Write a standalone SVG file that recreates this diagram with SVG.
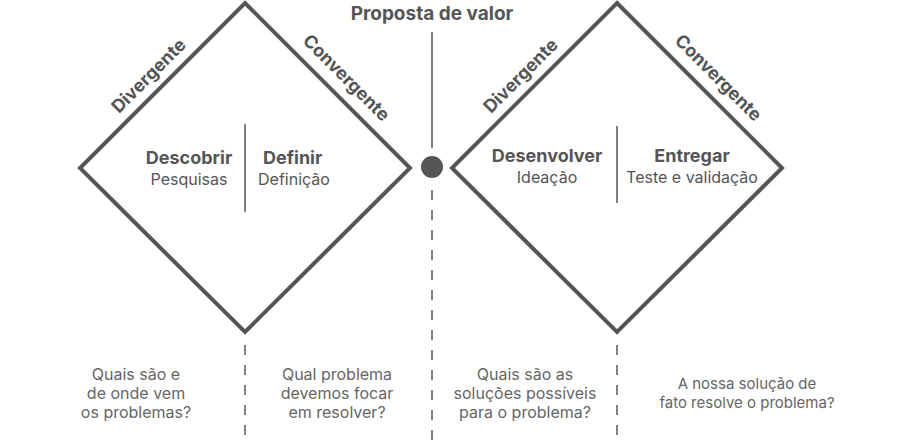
<svg xmlns="http://www.w3.org/2000/svg" width="897" height="440" viewBox="0 0 897 440">
<style>
text{font-family:Inter,"Noto Sans",sans-serif;fill:#555;}
.b{font-weight:700;font-size:18px;}
.t{font-weight:700;font-size:19px;}
.r{font-size:16px;}
.q{font-size:16px;fill:#666;}
.q2{font-size:15px;fill:#666;}
.d{fill:none;stroke:#555;stroke-width:4;}
.l{stroke:#555;stroke-width:1.5;}
.dash{stroke:#555;stroke-width:1.5;stroke-dasharray:10 10;}
</style>
<rect width="897" height="440" fill="#fff"/>
<g id="connectors">
<line class="l" x1="432" y1="32" x2="432" y2="148"/>
<line class="dash" x1="432" y1="190" x2="432" y2="440"/>
<line class="dash" x1="245" y1="345" x2="245" y2="440"/>
<line class="dash" x1="617" y1="345" x2="617" y2="440"/>
<line class="l" x1="245" y1="124" x2="245" y2="212"/>
<line class="l" x1="617" y1="126" x2="617" y2="203"/>
</g>
<g id="diamond-left"><polygon class="d" points="245,3 410,168 245,332 80,168"/></g>
<g id="diamond-right"><polygon class="d" points="617,3 782,168 617,332 452,168"/></g>
<g id="center"><circle cx="432" cy="167" r="11" fill="#555"/>
<text class="t" x="432" y="20" text-anchor="middle">Proposta de valor</text></g>
<g id="labels">
<text class="b" transform="translate(153,80) rotate(-45)" text-anchor="middle">Divergente</text>
<text class="b" transform="translate(342,82) rotate(45)" text-anchor="middle">Convergente</text>
<text class="b" transform="translate(525,80) rotate(-45)" text-anchor="middle">Divergente</text>
<text class="b" transform="translate(714,82) rotate(45)" text-anchor="middle">Convergente</text>
</g>
<g id="descobrir"><text class="b" x="189" y="164" text-anchor="middle">Descobrir</text><text class="r" x="189" y="185" text-anchor="middle">Pesquisas</text></g>
<g id="definir"><text class="b" x="263" y="164">Definir</text><text class="r" x="258" y="185">Definição</text></g>
<g id="desenvolver"><text class="b" x="547" y="162" text-anchor="middle">Desenvolver</text><text class="r" x="547" y="183" text-anchor="middle">Ideação</text></g>
<g id="entregar"><text class="b" x="692" y="162" text-anchor="middle">Entregar</text><text class="r" x="692" y="183" text-anchor="middle">Teste e validação</text></g>
<g id="questions">
<text class="q" text-anchor="middle"><tspan x="136" y="380">Quais são e</tspan><tspan x="136" y="399">de onde vem</tspan><tspan x="136" y="418">os problemas?</tspan></text>
<text class="q" text-anchor="middle"><tspan x="337" y="380">Qual problema</tspan><tspan x="337" y="399">devemos focar</tspan><tspan x="337" y="418">em resolver?</tspan></text>
<text class="q" text-anchor="middle"><tspan x="525" y="380">Quais são as</tspan><tspan x="525" y="399">soluções possíveis</tspan><tspan x="525" y="418">para o problema?</tspan></text>
<text class="q2" text-anchor="middle"><tspan x="747" y="389">A nossa solução de</tspan><tspan x="747" y="408">fato resolve o problema?</tspan></text>
</g>
</svg>
